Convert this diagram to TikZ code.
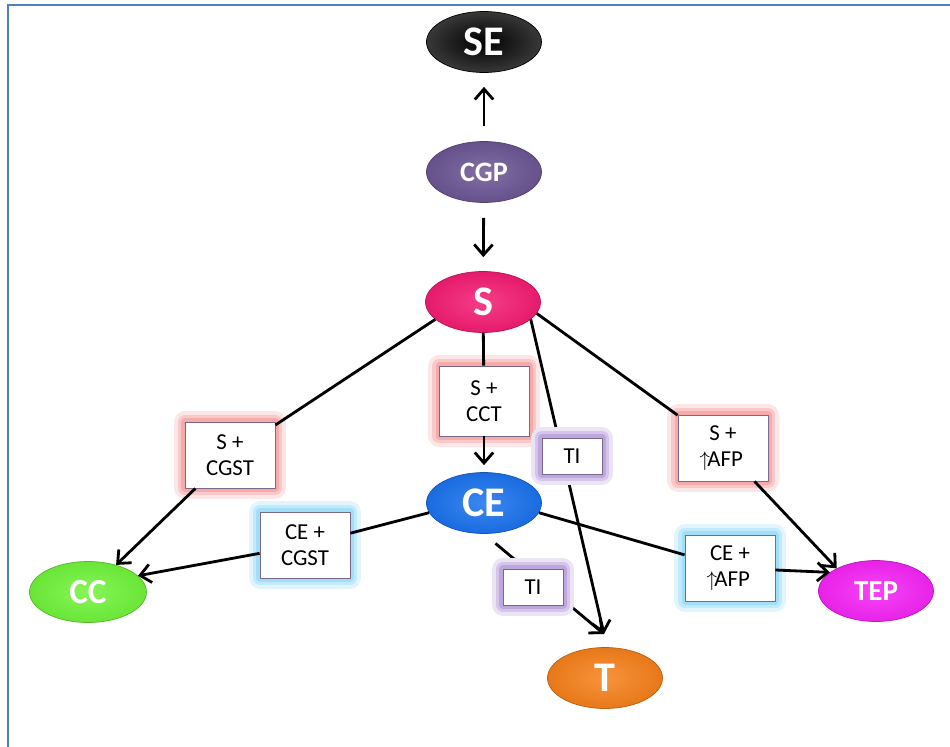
\documentclass[tikz,border=0pt]{standalone}
\usepackage{fontspec}
\setmainfont{Carlito}
\usetikzlibrary{
  arrows.meta,
  shapes.geometric,
  positioning
}
\definecolor{frameblue}{RGB}{79,129,189}
\definecolor{cgppurple}{RGB}{108,86,148}
\definecolor{spink}{RGB}{244,28,114}
\definecolor{ceblue}{RGB}{26,114,238}
\definecolor{ccgreen}{RGB}{112,244,58}
\definecolor{torange}{RGB}{246,128,26}
\definecolor{tepmag}{RGB}{246,36,246}
\definecolor{glowred}{RGB}{246,170,170}
\definecolor{glowblue}{RGB}{160,222,250}
\definecolor{glowlav}{RGB}{190,166,222}
\definecolor{boxline}{RGB}{120,104,138}

\begin{document}
\begin{tikzpicture}[x=0.02cm,y=-0.02cm,
  blob/.style={ellipse,inner sep=0pt,minimum width=2.3cm,minimum height=1.22cm,
    inner color=#1!85!white,outer color=#1!94!black,draw=#1!75!black,line width=0.4pt,
    text=white,font=\bfseries\fontsize{24}{24}\selectfont},
  tag/.style={rectangle,draw=boxline,fill=white,line width=0.5pt,align=center,
    inner sep=2pt,minimum width=1.8cm,minimum height=1.32cm,
    font=\fontsize{13}{14.5}\selectfont,line join=round,
    preaction={draw=#1!30!white,line width=12pt},
    preaction={draw=#1!65!white,line width=8pt},
    preaction={draw=#1,line width=4pt}},
  link/.style={line width=1.6pt},
  arr/.style={link,-{Straight Barb[length=6pt,width=10.5pt]}}]
\useasboundingbox (0,0) rectangle (950,747);
% frame
\draw[frameblue,line width=1.2pt] (950,5) -- (8,5) -- (8,747);
% ellipses
\node[blob=black,inner color=black,outer color=black!78!white] (se) at (484,42) {SE};
\node[blob=cgppurple,font=\bfseries\fontsize{16}{16}\selectfont] (cgp) at (484,172) {CGP};
\node[blob=spink] (s) at (483,302) {S};
\node[blob=ceblue] (ce) at (484,503) {CE};
\node[blob=ccgreen,minimum width=2.34cm,font=\bfseries\fontsize{20}{20}\selectfont] (cc) at (88,592) {CC};
\node[blob=torange] (t) at (605,678) {T};
\node[blob=tepmag,font=\bfseries\fontsize{16.5}{16.5}\selectfont] (tep) at (876,591) {TEP};
\coordinate (tin) at (604,634);
% boxes on the links
\node[tag=glowred] (scgst) at (230,455) {S +\\CGST};
\node[tag=glowblue] (cecgst) at (305,545) {CE +\\CGST};
\node[tag=glowred,minimum height=1.4cm] (scct) at (484,401) {S +\\CCT};
\node[tag=glowred] (safp) at (723,448) {S +\\\kern-2pt$\uparrow$\kern-1.5pt AFP};
\node[tag=glowblue] (ceafp) at (730,568) {CE +\\\kern-2pt$\uparrow$\kern-1.5pt AFP};
% top chain
\draw[arr,shorten <=0.3cm,shorten >=0.28cm] (cgp) -- (se);
\draw[arr,shorten <=0.3cm,shorten >=0.28cm] (cgp) -- (s);
\draw[link] (s) -- (scct);
\draw[arr,shorten >=0.14cm] (scct) -- (ce);
% to CC
\draw[link] (s.200) -- (scgst);
\draw[arr] (scgst) -- (cc);
\draw[link] (ce.190) -- (cecgst);
\draw[arr] (cecgst) -- (cc.18);
% to TEP
\draw[link] (s.-12) -- (safp);
\draw[arr] (safp) -- (tep.150);
\draw[link] (ce.-10) -- (ceafp);
\draw[arr] (ceafp) -- (tep.158);
% to T
\draw[arr] (s.-20) -- (tin);
\draw[arr,shorten <=0.3cm] (ce.south) -- (tin);
\node[tag=glowlav,minimum width=1.2cm,minimum height=0.72cm] (ti1) at (572,456) {TI};
\node[tag=glowlav,minimum width=1.2cm,minimum height=0.72cm] (ti2) at (533,587) {TI};
\end{tikzpicture}
\end{document}
